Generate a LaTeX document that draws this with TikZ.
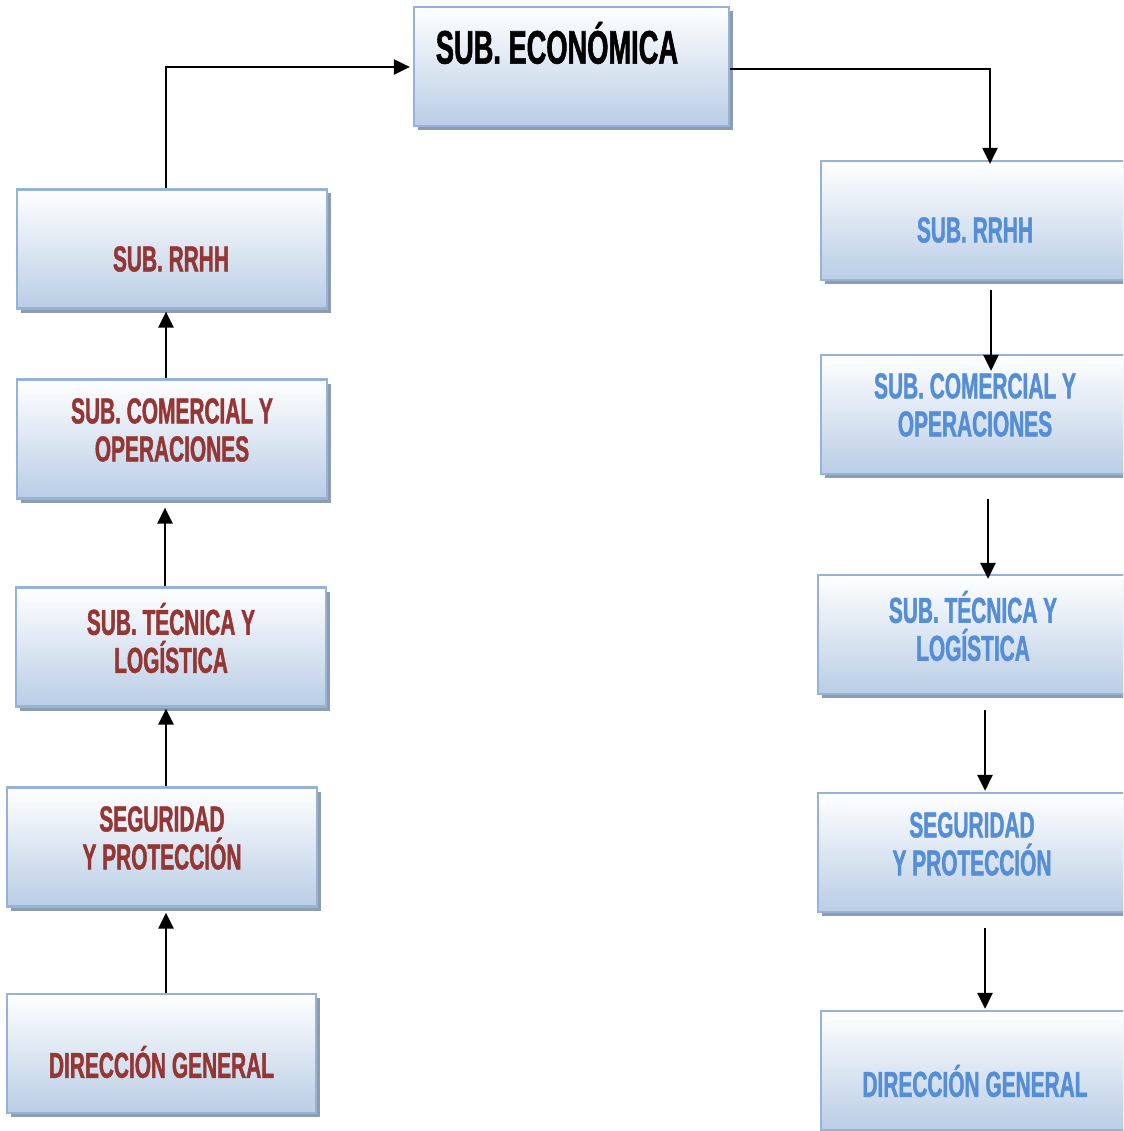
\documentclass[tikz,border=0pt]{standalone}
\usepackage{fontspec}
\newfontfamily\agency[FakeStretch=0.58,FakeBold=1.2]{Liberation Sans}
\usetikzlibrary{arrows.meta,shadows,calc}
\definecolor{boxborder}{HTML}{95B3D7}
\definecolor{boxbottom}{HTML}{B9CDE5}
\definecolor{boxshadow}{HTML}{8E9CB0}
\definecolor{redtext}{HTML}{943634}
\definecolor{bluetext}{HTML}{558ED5}
\tikzset{
  box/.style={rectangle, draw=boxborder, line width=2.2pt, top color=white, bottom color=boxbottom,
    minimum width=310pt, minimum height=119pt, inner sep=0pt,
    drop shadow={shadow xshift=4pt, shadow yshift=-4pt, fill=boxshadow, opacity=1}},
  lbl/.style={align=center, inner sep=0pt, font=\agency\bfseries\fontsize{36}{38}\selectfont},
  redlbl/.style={lbl, text=redtext},
  bluelbl/.style={lbl, text=bluetext},
  conn/.style={line width=2.6pt, -{Triangle[width=15pt,length=16pt]}}
}
\begin{document}
\begin{tikzpicture}[x=1pt,y=-1pt]
\clip (0,0) rectangle (1123,1131);
\fill[white] (0,0) rectangle (1123,1131);
% top box
\node[box, minimum width=315pt] (eco) at (571.5,66.5) {};
\node[lbl, font=\agency\bfseries\fontsize{47}{50}\selectfont, text=black, anchor=center] (ecot) at (557,43) {SUB. ECONÓMICA};
% left column
\node[box] (lrrhh) at (172,249) {};
\node[redlbl] (lrrhht) at (171,259) {SUB. RRHH};
\node[box] (lcom) at (172,439) {};
\node[redlbl] (lcomt) at (172,430) {SUB. COMERCIAL Y\\OPERACIONES};
\node[box] (ltec) at (171,647) {};
\node[redlbl] (ltect) at (171,638) {SUB. TÉCNICA Y\\LOGÍSTICA};
\node[box] (lseg) at (162,847) {};
\node[redlbl] (lsegt) at (162,838) {SEGURIDAD\\Y PROTECCIÓN};
\node[box, minimum width=309pt] (ldir) at (161.5,1053.5) {};
\node[redlbl] (ldirt) at (161.5,1062) {DIRECCIÓN GENERAL};
% right column
\node[box] (rrrhh) at (976,220.5) {};
\node[bluelbl] (rrrhht) at (975,230) {SUB. RRHH};
\node[box] (rcom) at (976,414.5) {};
\node[bluelbl] (rcomt) at (975,405) {SUB. COMERCIAL Y\\OPERACIONES};
\node[box] (rtec) at (973,634.5) {};
\node[bluelbl] (rtect) at (973,626) {SUB. TÉCNICA Y\\LOGÍSTICA};
\node[box] (rseg) at (973,852.5) {};
\node[bluelbl] (rsegt) at (972,844) {SEGURIDAD\\Y PROTECCIÓN};
\node[box] (rdir) at (976,1070.5) {};
\node[bluelbl] (rdirt) at (975,1081) {DIRECCIÓN GENERAL};
% connectors top
\draw[conn] ($(lrrhh.north)+(-6,0)$) |- ($(eco.west)+(-3,0.5)$);
\draw[conn, line width=2.2pt] ($(eco.east)+(0,2.5)$) -| ($(rrrhh.north)+(14,4)$);
% left upward
\draw[conn] ($(lcom.north)+(-6,0)$) -- ($(lrrhh.south)+(-6,2)$);
\draw[conn] ($(ltec.north)+(-6,0)$) -- ($(lcom.south)+(-7,8)$);
\draw[conn] ($(lseg.north)+(4,0)$) -- ($(ltec.south)+(-5,1)$);
\draw[conn] ($(ldir.north)+(4.5,0)$) -- ($(lseg.south)+(4,5)$);
% right downward
\draw[conn] ($(rrrhh.south)+(15,9)$) -- ($(rcom.north)+(15,17)$);
\draw[conn] ($(rcom.south)+(12,24)$) -- ($(rtec.north)+(15,5)$);
\draw[conn] ($(rtec.south)+(12,15)$) -- ($(rseg.north)+(12,-1)$);
\draw[conn] ($(rseg.south)+(12,15)$) -- ($(rdir.north)+(9,-1)$);
\end{tikzpicture}
\end{document}
